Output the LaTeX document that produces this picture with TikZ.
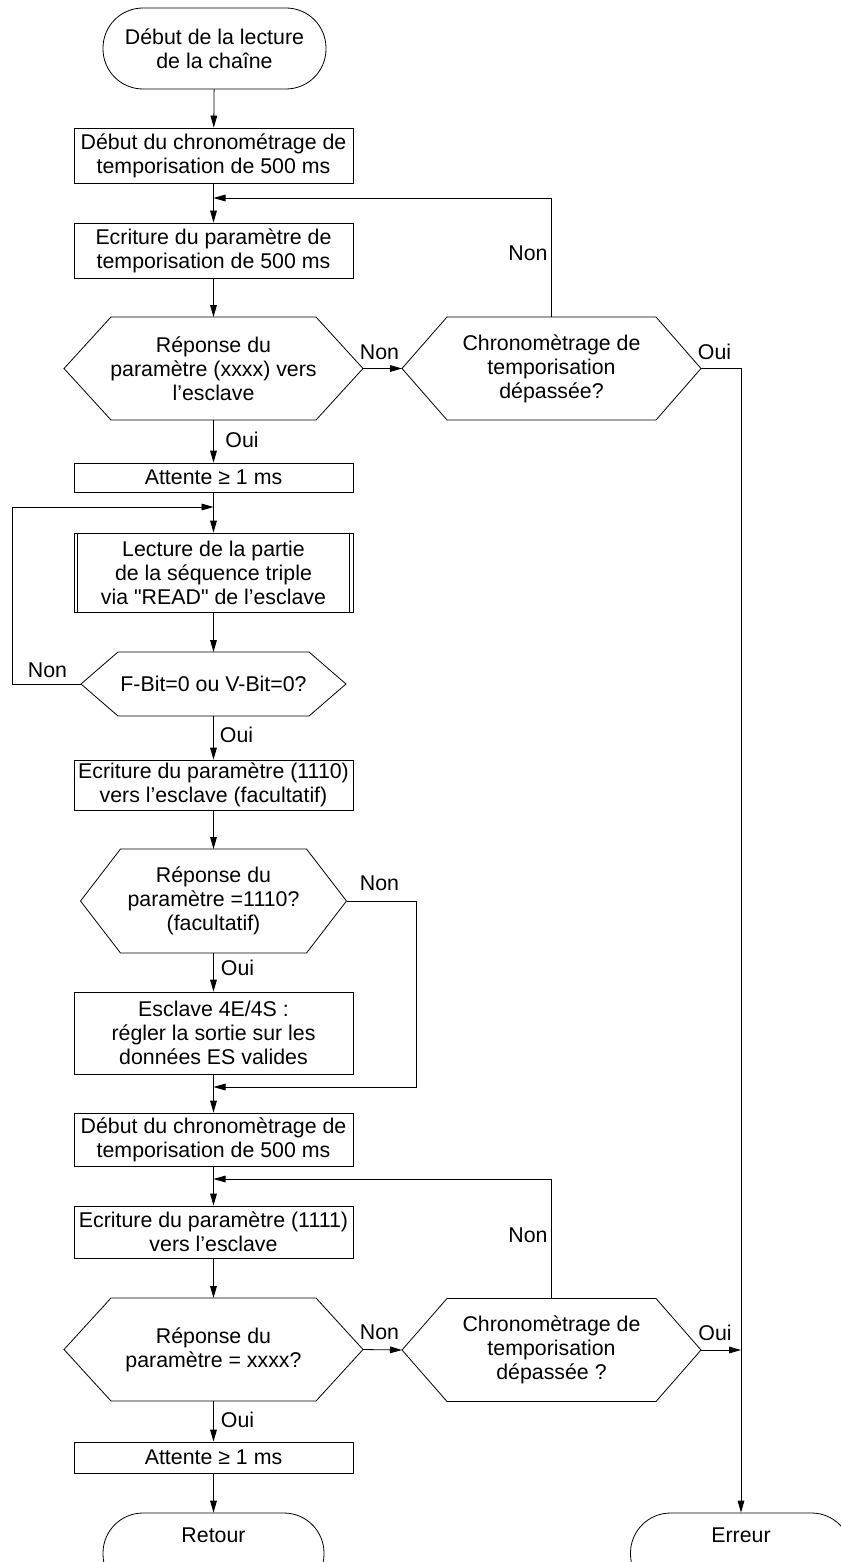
\documentclass[tikz,border=0pt]{standalone}
\usepackage{fontspec}
\setmainfont{Liberation Sans}[Ligatures=TeXOff]
\usetikzlibrary{arrows.meta}
\newcommand\drawhex[2]{\draw[ln] (#1.west) -- ([xshift=#2]#1.north west) -- ([xshift=-#2]#1.north east) -- (#1.east) -- ([xshift=-#2]#1.south east) -- ([xshift=#2]#1.south west) -- cycle;}
\begin{document}
\begin{tikzpicture}[x=0.75pt,y=-0.75pt,
  every node/.style={font=\fontsize{16pt}{18pt}\selectfont},
  ln/.style={line width=0.6pt},
  arr/.style={ln,-{Triangle[length=9pt,width=5pt]}},
  procbox/.style={draw,ln,minimum width=209.25pt,align=center,inner sep=0pt},
  term/.style={draw,ln,rounded corners=30pt,minimum height=60.75pt,align=center,inner sep=0pt},
  hexn/.style={inner sep=0pt,outer sep=0pt,align=center},
  lab/.style={inner sep=0pt}]
\useasboundingbox (0,0) rectangle (840,1562);
% nodes
\node[term,minimum width=167.25pt] (start) at (214.5,48.5) {Début de la lecture\\de la chaîne};
\node[procbox,minimum height=41.25pt] (b1) at (213.5,155.5) {Début du chronométrage de\\temporisation de 500 ms};
\node[procbox,minimum height=41.25pt] (b2) at (213.5,250.5) {Ecriture du paramètre de\\temporisation de 500 ms};
\node[hexn,minimum width=224.25pt,minimum height=77.25pt] (h1) at (213.5,368.5) {Réponse du\\paramètre (xxxx) vers\\l’esclave};
\drawhex{h1}{35.25pt}
\node[hexn,minimum width=224.25pt,minimum height=77.25pt] (h2) at (551.5,368.5) {Chronomètrage de\\temporisation\\dépassée?};
\drawhex{h2}{33.75pt}
\node[procbox,minimum height=21.75pt] (b3) at (213.5,477.5) {Attente ≥ 1 ms};
\node[procbox,minimum height=59.25pt] (b4) at (213.5,572.5) {Lecture de la partie\\de la séquence triple\\via "READ" de l’esclave};
\draw[ln] ([xshift=3.2pt]b4.north west) -- ([xshift=3.2pt]b4.south west);
\draw[ln] ([xshift=-3.2pt]b4.north east) -- ([xshift=-3.2pt]b4.south east);
\node[hexn,minimum width=198.75pt,minimum height=48pt] (h3) at (213.5,684) {F-Bit=0 ou V-Bit=0?};
\drawhex{h3}{27.75pt}
\node[procbox,minimum height=37.5pt] (b5) at (213.5,785) {Ecriture du paramètre (1110)\\vers l’esclave (facultatif)};
\node[hexn,minimum width=199.5pt,minimum height=78pt] (h4) at (213.5,901) {Réponse du\\paramètre =1110?\\(facultatif)};
\drawhex{h4}{30pt}
\node[procbox,minimum height=61.5pt] (b6) at (213.5,1033) {Esclave 4E/4S :\\régler la sortie sur les\\données ES valides};
\node[procbox,minimum height=39.75pt] (b7) at (213.5,1139.5) {Début du chronomètrage de\\temporisation de 500 ms};
\node[procbox,minimum height=39pt] (b8) at (213.5,1232) {Ecriture du paramètre (1111)\\vers l’esclave};
\node[hexn,minimum width=224.25pt,minimum height=77.25pt] (h5) at (213.5,1349.5) {Réponse du\\paramètre = xxxx?};
\drawhex{h5}{35.25pt}
\node[hexn,minimum width=224.25pt,minimum height=77.25pt] (h6) at (551.5,1350) {Chronomètrage de\\temporisation\\dépassée ?};
\drawhex{h6}{33.75pt}
\node[procbox,minimum height=23.25pt] (b9) at (213.5,1457.5) {Attente ≥ 1 ms};
\node[term,minimum width=165.75pt] (retour) at (213.5,1553.5) {};
\node[inner sep=0pt] (retourtxt) at (213.5,1535) {Retour};
\node[term,minimum width=165.75pt] (erreur) at (741,1553.5) {};
\node[inner sep=0pt] (erreurtxt) at (741,1535) {Erreur};
% junction coordinates
\coordinate (j1) at (213.5,198);
\coordinate (j2) at (213.5,507);
\coordinate (j3) at (213.5,1087);
\coordinate (j4) at (213.5,1179);
\coordinate (l3) at (12,684);
\coordinate (r4) at (416,901);
% connectors
\draw[arr] (start) -- (b1);
\draw[arr] (b1) -- (b2);
\draw[arr] (b2) -- (h1);
\draw[arr] (h1.east) -- (h2.west);
\draw[arr] (h2.north) |- (j1);
\draw[arr] (h2.east) -| (erreur.north);
\draw[arr] (h1.south) -- (b3);
\draw[arr] (b3) -- (b4);
\draw[arr] (b4) -- (h3.north);
\draw[arr] (h3.west) -- (l3) |- (j2);
\draw[arr] (h3.south) -- (b5);
\draw[arr] (b5) -- (h4.north);
\draw[arr] (h4.east) -- (r4) |- (j3);
\draw[arr] (h4.south) -- (b6);
\draw[arr] (b6) -- (b7);
\draw[arr] (b7) -- (b8);
\draw[arr] (b8) -- (h5.north);
\draw[arr] (h5.east) -- (h6.west);
\draw[arr] (h6.north) |- (j4);
\draw[arr] (h6.east) -- (h6.east -| erreur.north);
\draw[arr] (h5.south) -- (b9);
\draw[arr] (b9) -- (retour);
% labels
\node[lab] (n1) at (379.5,352) {Non};
\node[lab] (n2) at (528,253) {Non};
\node[lab] (o2) at (714.5,352) {Oui};
\node[lab] (o1) at (242,440) {Oui};
\node[lab] (n3) at (47.5,670) {Non};
\node[lab] (o3) at (236.5,735) {Oui};
\node[lab] (n4) at (379.5,883) {Non};
\node[lab] (o4) at (237.5,968) {Oui};
\node[lab] (n5) at (379.5,1332) {Non};
\node[lab] (n6) at (528,1235) {Non};
\node[lab] (o6) at (715,1333) {Oui};
\node[lab] (o5) at (237.5,1420) {Oui};
\end{tikzpicture}
\end{document}
